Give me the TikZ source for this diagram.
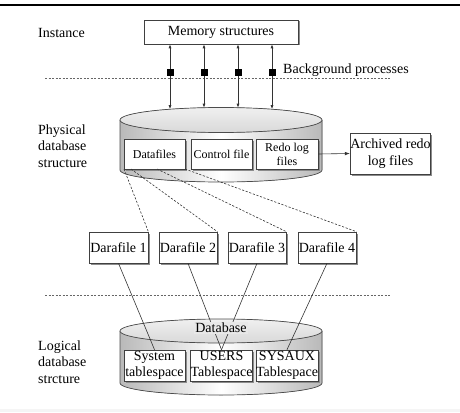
\documentclass[tikz,border=0pt]{standalone}
\usepackage{fontspec}
\setmainfont{Liberation Serif}
\usetikzlibrary{shadows,arrows.meta,calc}
\begin{document}
\begin{tikzpicture}[x=1pt,y=-1pt,
  lbl/.style={font=\fontsize{14}{16.5}\selectfont, align=left, anchor=west, inner sep=0pt},
  box/.style={draw=black!75, line width=0.7pt, fill=white, inner sep=0pt, align=center,
              drop shadow={shadow xshift=1.5pt, shadow yshift=-1.5pt, fill=black!45, opacity=1}},
  big/.style={font=\fontsize{14}{16.5}\selectfont},
  small/.style={font=\fontsize{12}{14}\selectfont},
  dbl/.style={{Latex[length=4pt,width=3pt]}-{Latex[length=4pt,width=3pt]}, line width=0.7pt, draw=black!80},
  sep/.style={dash pattern=on 2pt off 1.5pt, draw=black!60, line width=0.6pt},
  link/.style={dash pattern=on 2.2pt off 1.6pt, draw=black!80, line width=0.6pt},
  tie/.style={draw=black!80, line width=0.6pt},
  sq/.style={fill=black, minimum size=7pt, inner sep=0pt},
  cylbody/.style={left color=gray!55, right color=gray!55, middle color=white},
  cyltop/.style={top color=gray!12, bottom color=gray!30},
  cylline/.style={draw=black!70, line width=0.7pt}
]
\useasboundingbox (0,0) rectangle (460,412);
% frame rules
\coordinate (ra) at (0,5); \coordinate (rb) at (460,5);
\draw[line width=2.5pt] (ra) -- (rb);
\fill[gray!8] (0,409) rectangle (460,412);

% ---------- instance ----------
\node[lbl] (inst) at (38,33) {Instance};
\node[box, big, minimum width=154pt, minimum height=24pt] (mem) at (221,32) {Memory structures};
\node[lbl] (bg) at (283,70) {Background processes};
\coordinate (l1a) at (45,78); \coordinate (l1b) at (390,78);
\draw[sep] (l1a) -- (l1b);

% ---------- physical cylinder ----------
\fill[cylbody] (120,120) -- (120,170) arc[start angle=180,end angle=360,x radius=101pt,y radius=12pt] -- (322,120) -- cycle;
\draw[cylline] (120,120) -- (120,170) arc[start angle=180,end angle=360,x radius=101pt,y radius=12pt] -- (322,120);
\fill[cyltop] (221,120) ellipse [x radius=101pt, y radius=12.5pt];
\draw[cylline] (221,120) ellipse [x radius=101pt, y radius=12.5pt];

\coordinate (c1) at (170,109.2); \coordinate (c2) at (204,107.7);
\coordinate (c3) at (238,107.7); \coordinate (c4) at (272,109.2);
\coordinate (s1) at (170,72); \coordinate (s2) at (204,72);
\coordinate (s3) at (238,72); \coordinate (s4) at (272,72);
\foreach \i in {1,2,3,4} {
  \draw[dbl] (mem.south -| s\i) -- (c\i);
  \node[sq] (q\i) at (s\i) {};
}

\node[lbl] (phys) at (38,146) {Physical\\database\\structure};
\node[box, small, minimum width=61pt, minimum height=30pt] (df) at (154.5,154) {Datafiles};
\node[box, small, minimum width=61pt, minimum height=30pt] (cf) at (221.5,154) {Control file};
\node[box, small, minimum width=62pt, minimum height=30pt] (rl) at (287,154) {Redo log\\files};
\node[box, big, minimum width=79pt, minimum height=41pt] (ar) at (390.5,153.5) {Archived redo\\log files};
\draw[tie, -{Latex[length=5pt,width=3.5pt]}] (rl.east) -- (ar.west);

% ---------- datafiles ----------
\node[box, big, minimum width=59pt, minimum height=31pt] (f1) at (118.5,247.5) {Darafile 1};
\node[box, big, minimum width=58pt, minimum height=31pt] (f2) at (188,247.5) {Darafile 2};
\node[box, big, minimum width=58pt, minimum height=31pt] (f3) at (257,247.5) {Darafile 3};
\node[box, big, minimum width=58pt, minimum height=31pt] (f4) at (327,247.5) {Darafile 4};

\coordinate (d1) at (124,169); \coordinate (d2) at (131,169);
\coordinate (d3) at (157,169); \coordinate (d4) at (185,169);
\foreach \i in {1,2,3,4} { \draw[link] (d\i) -- (f\i.north east); }

\coordinate (l2a) at (45,295); \coordinate (l2b) at (390,295);
\draw[sep] (l2a) -- (l2b);

% ---------- logical cylinder ----------
\fill[cylbody] (120,331) -- (120,383) arc[start angle=180,end angle=360,x radius=101pt,y radius=12pt] -- (322,331) -- cycle;
\draw[cylline] (120,331) -- (120,383) arc[start angle=180,end angle=360,x radius=101pt,y radius=12pt] -- (322,331);
\fill[cyltop] (221,331) ellipse [x radius=101pt, y radius=12pt];
\draw[cylline] (221,331) ellipse [x radius=101pt, y radius=12pt];

\node[lbl] (logi) at (38,362) {Logical\\database\\strcture};
\node[box, big, minimum width=61pt, minimum height=31pt] (sys) at (154.5,365.5) {System\\tablespace};
\node[box, big, minimum width=61pt, minimum height=31pt] (us) at (221.5,365.5) {USERS\\Tablespace};
\node[box, big, minimum width=62pt, minimum height=31pt] (sa) at (287,365.5) {SYSAUX\\Tablespace};

\draw[tie] (f1.south) -- (sys.north);
\draw[tie] (f2.south) -- (us.north);
\draw[tie] (f3.south) -- (us.north);
\draw[tie] (f4.south) -- (sa.north);
\node[big, fill=gray!18, inner sep=1pt] (dbn) at (221,328) {Database};
\end{tikzpicture}
\end{document}
